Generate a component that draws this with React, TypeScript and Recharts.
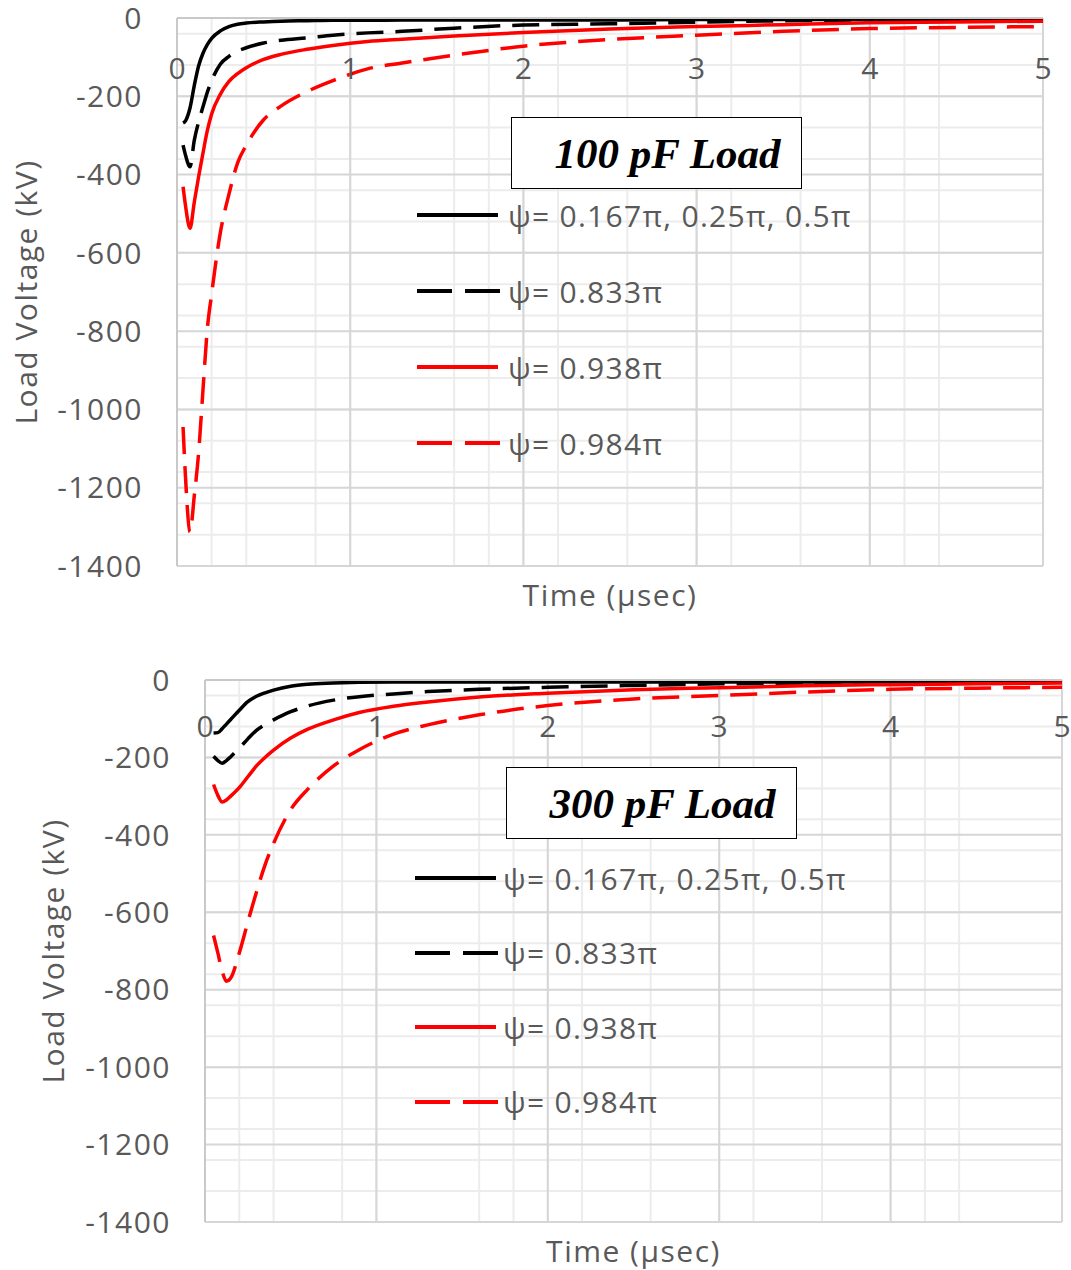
import React from "react";
import { LineChart, Line, XAxis, YAxis, CartesianGrid, Legend } from "recharts";

// time points (µsec) used for each panel
const timeTop = [0.035, 0.05, 0.075, 0.1, 0.125, 0.15, 0.175, 0.2, 0.25, 0.3, 0.35, 0.4, 0.5, 0.6, 0.75, 0.9, 1.1, 1.3, 1.6, 2, 2.5, 3, 3.5, 4, 4.5, 5];
const timeBottom = [0.05, 0.075, 0.1, 0.125, 0.15, 0.2, 0.25, 0.3, 0.35, 0.4, 0.5, 0.6, 0.75, 0.9, 1.1, 1.3, 1.6, 2, 2.5, 3, 3.5, 4, 4.5, 5];

// 100 pF load (kV)
const top167 = [-268, -262, -230, -172, -122, -90, -68, -52, -33, -22, -16, -13, -10, -8, -7, -6, -6, -5, -5, -5, -5, -4, -4, -4, -4, -4];
const top833 = [-325, -352, -380, -312, -265, -227, -190, -160, -118, -98, -85, -76, -64, -57, -51, -44, -38, -34, -26, -18, -15, -11, -7, -5, -4, -3];
const top938 = [-431, -482, -537, -470, -405, -345, -288, -245, -195, -162, -142, -127, -106, -93, -80, -70, -60, -54, -46, -37, -28, -22, -17, -12, -10, -8];
const top984 = [-1045, -1180, -1313, -1220, -1110, -950, -795, -705, -549, -450, -370, -325, -260, -225, -188, -160, -130, -115, -95, -72, -55, -44, -34, -27, -24, -22];

// 300 pF load (kV)
const bot167 = [-137, -136, -126, -114, -102, -78, -56, -42, -33, -26, -16, -11, -8, -6, -5, -5, -5, -5, -5, -5, -5, -5, -6, -6];
const bot833 = [-197, -208, -215, -208, -198, -176, -152, -130, -115, -103, -82, -67, -52, -43, -36, -30, -24, -19, -14, -10, -8, -7, -6, -5];
const bot938 = [-270, -298, -315, -310, -300, -278, -250, -222, -200, -181, -150, -127, -103, -84, -68, -57, -44, -34, -25, -20, -15, -12, -10, -8];
const bot984 = [-660, -705, -752, -778, -770, -705, -625, -548, -478, -422, -335, -282, -222, -180, -140, -116, -90, -66, -49, -40, -31, -24, -21, -19];

const xTicks = [0, 1, 2, 3, 4, 5];
const yTicks = [0, -200, -400, -600, -800, -1000, -1200, -1400];
const seriesNames = ["ψ= 0.167π, 0.25π, 0.5π", "ψ= 0.833π", "ψ= 0.938π", "ψ= 0.984π"];

const xMinor = Array.from({ length: 26 }, (_, i) => i * 0.2);
const yMinor = Array.from({ length: 36 }, (_, i) => -i * 40);

const series = [
  { key: "s1", name: seriesNames[0], color: "#000000", dash: undefined as string | undefined },
  { key: "s2", name: seriesNames[1], color: "#000000", dash: "27 12" },
  { key: "s3", name: seriesNames[2], color: "#ff0000", dash: undefined },
  { key: "s4", name: seriesNames[3], color: "#ff0000", dash: "27 12" },
];

const build = (t: number[], a: number[], b: number[], c: number[], d: number[]) =>
  t.map((x, i) => ({ t: x, s1: a[i], s2: b[i], s3: c[i], s4: d[i] }));

const topData = build(timeTop, top167, top833, top938, top984);
const bottomData = build(timeBottom, bot167, bot833, bot938, bot984);

const FONT = "'Open Sans', 'Noto Sans', sans-serif";
const GRAY = "#595959";

const LegendBox = ({ gap, textLeft }: { gap: number; textLeft: number }) => (
  <div style={{ fontFamily: FONT, color: GRAY, fontSize: 30, letterSpacing: 1.3 }}>
    {series.map((s) => (
      <div key={s.key} style={{ height: gap, display: "flex", alignItems: "center", position: "relative" }}>
        <svg width={84} height={10} style={{ display: "block" }}>
          {s.dash ? (
            <>
              <line x1={0} y1={5} x2={35} y2={5} stroke={s.color} strokeWidth={4} />
              <line x1={48} y1={5} x2={83} y2={5} stroke={s.color} strokeWidth={4} />
            </>
          ) : (
            <line x1={0} y1={5} x2={81} y2={5} stroke={s.color} strokeWidth={4} />
          )}
        </svg>
        <span style={{ position: "absolute", left: textLeft, whiteSpace: "nowrap" }}>{s.name}</span>
      </div>
    ))}
  </div>
);

type PanelProps = {
  data: any[];
  top: number;
  height: number;
  axisTop: number;
  axisW: number;
  right: number;
  labelY: number;
  yTitleX: number;
  title: string;
  boxLeft: number;
  boxTop: number;
  legendLeft: number;
  legendTop: number;
  legendGap: number;
  textLeft: number;
};

const Panel = (p: PanelProps) => {
  const plotTop = p.axisTop;
  const plotBottom = p.height - 50;
  const midY = (plotTop + plotBottom) / 2;
  return (
    <div style={{ position: "absolute", left: 0, top: p.top, width: 1071, height: p.height }}>
      <LineChart
        width={1071}
        height={p.height}
        data={p.data}
        margin={{ top: 0, right: p.right, bottom: 0, left: 0 }}
        style={{ overflow: "visible" }}
      >
        <CartesianGrid horizontalValues={yMinor} verticalValues={xMinor} stroke="#ececec" strokeWidth={2} />
        <CartesianGrid horizontalValues={yTicks} verticalValues={xTicks} stroke="#d6d6d6" strokeWidth={2} />
        <XAxis
          dataKey="t"
          type="number"
          domain={[0, 5]}
          ticks={xTicks}
          orientation="top"
          height={p.axisTop}
          tickLine={false}
          axisLine={{ stroke: "#c9c9c9", strokeWidth: 2 }}
          tick={(tp: any) => (
            <text x={tp.x} y={p.labelY} textAnchor="middle" fill={GRAY} fontSize={30} fontFamily={FONT}>
              {tp.payload.value}
            </text>
          )}
        />
        <XAxis
          xAxisId="title"
          dataKey="t"
          type="number"
          domain={[0, 5]}
          orientation="bottom"
          height={50}
          tick={false}
          tickLine={false}
          axisLine={false}
          label={{
            value: "Time (µsec)",
            position: "insideTop",
            offset: 19,
            fill: GRAY,
            fontSize: 30,
            fontFamily: FONT,
            letterSpacing: 1.5,
          }}
        />
        <YAxis
          type="number"
          domain={[-1400, 0]}
          ticks={yTicks}
          width={p.axisW}
          tickLine={false}
          tickMargin={28}
          axisLine={{ stroke: "#c9c9c9", strokeWidth: 2 }}
          tick={{ fill: GRAY, fontSize: 30, fontFamily: FONT, letterSpacing: 1.5 }}
          label={{
            content: () => (
              <text
                x={p.yTitleX}
                y={midY}
                transform={`rotate(-90 ${p.yTitleX} ${midY})`}
                textAnchor="middle"
                dominantBaseline="central"
                fill={GRAY}
                fontSize={30}
                fontFamily={FONT}
                style={{ letterSpacing: 1.5 }}
              >
                Load Voltage (kV)
              </text>
            ),
          }}
        />
        {series.map((s) => (
          <Line
            key={s.key}
            dataKey={s.key}
            name={s.name}
            type="monotone"
            stroke={s.color}
            strokeWidth={3.5}
            strokeDasharray={s.dash}
            dot={false}
            isAnimationActive={false}
          />
        ))}
        <Legend
          layout="vertical"
          align="center"
          verticalAlign="middle"
          wrapperStyle={{ position: "absolute", left: p.legendLeft, top: p.legendTop, width: 500 }}
          content={() => <LegendBox gap={p.legendGap} textLeft={p.textLeft} />}
        />
      </LineChart>
      <div
        style={{
          position: "absolute",
          left: p.boxLeft,
          top: p.boxTop,
          width: 289,
          height: 70,
          border: "1.5px solid #000",
          background: "#fff",
          boxSizing: "content-box",
          display: "flex",
          alignItems: "center",
          justifyContent: "center",
          fontFamily: "'Liberation Serif', 'Times New Roman', serif",
          fontWeight: "bold",
          fontStyle: "italic",
          fontSize: 43,
        }}
      >
        <span style={{ marginLeft: 22 }}>{p.title}</span>
      </div>
    </div>
  );
};

export default function App() {
  return (
    <div style={{ position: "absolute", left: 0, top: 0, width: 1071, height: 1270, background: "#fff" }}>
      <Panel
        data={topData}
        top={0}
        height={616}
        axisTop={18}
        axisW={177}
        right={28}
        labelY={79}
        yTitleX={25}
        title="100 pF Load"
        boxLeft={511}
        boxTop={117}
        legendLeft={417}
        legendTop={177}
        legendGap={76}
        textLeft={91}
      />
      <Panel
        data={bottomData}
        top={640}
        height={632}
        axisTop={40}
        axisW={205}
        right={9}
        labelY={97}
        yTitleX={52}
        title="300 pF Load"
        boxLeft={506}
        boxTop={127}
        legendLeft={415}
        legendTop={201}
        legendGap={74.5}
        textLeft={88}
      />
    </div>
  );
}
